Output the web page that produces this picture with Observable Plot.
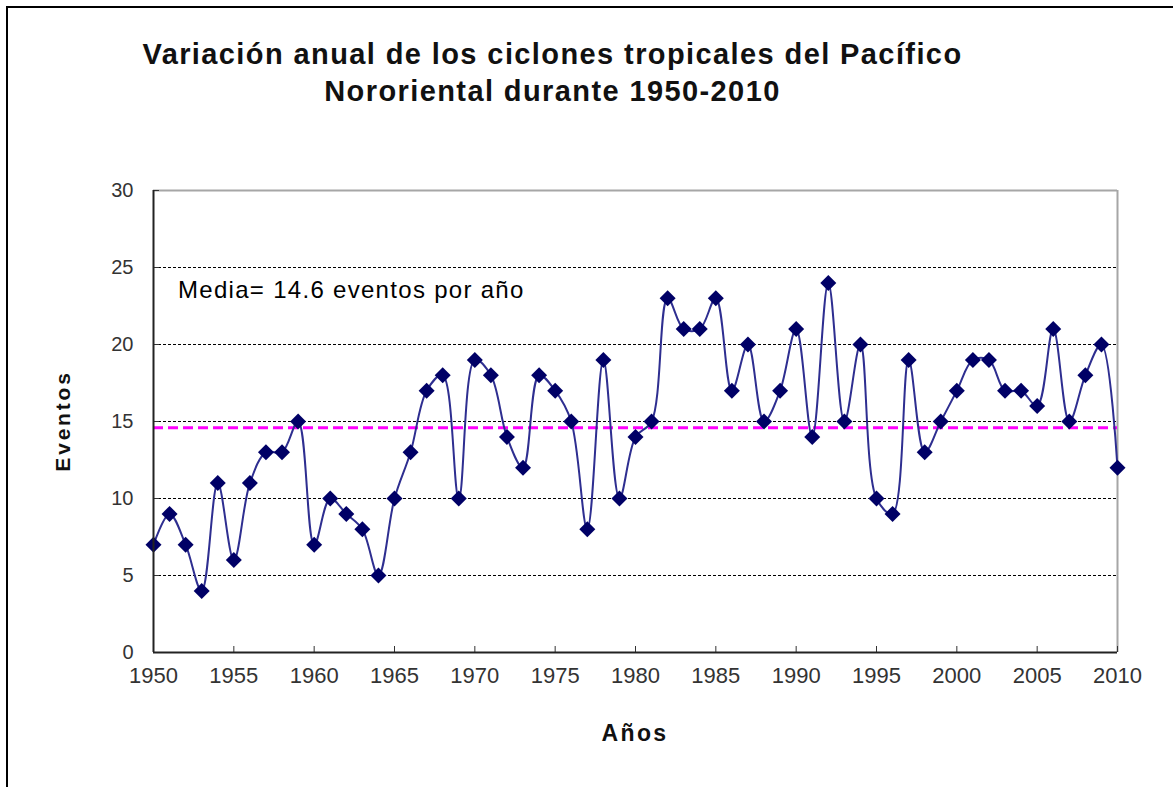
<!DOCTYPE html>
<html><head><meta charset="utf-8">
<script src="https://cdn.jsdelivr.net/npm/d3@7"></script>
<script src="https://cdn.jsdelivr.net/npm/@observablehq/plot@0.6"></script>
<style>
body{margin:0;background:#fff;font-family:"Liberation Sans",Arial,sans-serif;}
#wrap{position:relative;width:1173px;height:787px;overflow:hidden;background:#fff;}
#border{position:absolute;left:6px;top:6px;width:1300px;height:900px;border-left:2px solid #000;border-top:2px solid #000;}
#chart{position:absolute;left:0;top:0;}
.title{position:absolute;left:0;width:1105px;text-align:center;font-weight:bold;font-size:29px;line-height:29px;letter-spacing:1.4px;color:#111;white-space:nowrap;}
#media{position:absolute;left:178px;font-size:24px;line-height:24px;letter-spacing:1.3px;color:#000;white-space:nowrap;}
#xlab{position:absolute;left:535px;width:200px;text-align:center;font-weight:bold;font-size:23px;line-height:23px;letter-spacing:2.4px;color:#111;}
#ylab{position:absolute;left:62px;top:421px;transform:translate(-50%,-50%) rotate(-90deg);font-weight:bold;font-size:21px;line-height:21px;letter-spacing:2.8px;color:#111;white-space:nowrap;}
</style>
</head><body>
<div id="wrap">
  <div id="border"></div>
  <div id="chart"></div>
  <div class="title" style="top:40px">Variación anual de los ciclones tropicales del Pacífico</div>
  <div class="title" style="top:77px">Nororiental durante 1950-2010</div>
  <div id="media" style="top:278px">Media= 14.6 eventos por año</div>
  <div id="xlab" style="top:722px">Años</div>
  <div id="ylab">Eventos</div>
</div>
<script>
const years = [1950,1951,1952,1953,1954,1955,1956,1957,1958,1959,
  1960,1961,1962,1963,1964,1965,1966,1967,1968,1969,
  1970,1971,1972,1973,1974,1975,1976,1977,1978,1979,
  1980,1981,1982,1983,1984,1985,1986,1987,1988,1989,
  1990,1991,1992,1993,1994,1995,1996,1997,1998,1999,
  2000,2001,2002,2003,2004,2005,2006,2007,2008,2009,2010];
const events = [7,9,7,4,11,6,11,13,13,15,
  7,10,9,8,5,10,13,17,18,10,
  19,18,14,12,18,17,15,8,19,10,
  14,15,23,21,21,23,17,20,15,17,
  21,14,24,15,20,10,9,19,13,15,
  17,19,19,17,17,16,21,15,18,20,12];
const meanValue = [14.6];
const xTicks = [1950,1955,1960,1965,1970,1975,1980,1985,1990,1995,2000,2005,2010];
const yTicks = [0,5,10,15,20,25,30];
const gridValues = [5,10,15,20,25];

const data = years.map((y, i) => ({year: y, events: events[i]}));

const chart = Plot.plot({
  width: 1173, height: 787,
  marginLeft: 153, marginRight: 56, marginTop: 190, marginBottom: 135,
  style: {fontFamily: "Liberation Sans, Arial, sans-serif", background: "transparent", overflow: "visible"},
  x: {domain: [1950, 2010]},
  y: {domain: [0, 30]},
  marks: [
    Plot.ruleY(gridValues, {stroke: "#000", strokeDasharray: "3,2", strokeWidth: 1.2}),
    Plot.ruleY([yTicks[yTicks.length - 1]], {stroke: "#a6a6a6", strokeWidth: 2}),
    Plot.ruleX([xTicks[xTicks.length - 1]], {stroke: "#a6a6a6", strokeWidth: 2}),
    Plot.ruleY(meanValue, {stroke: "#ff00ff", strokeWidth: 3, strokeDasharray: "10,5"}),
    Plot.line(data, {x: "year", y: "events", curve: "catmull-rom", stroke: "#2e2e90", strokeWidth: 2}),
    Plot.dot(data, {x: "year", y: "events", symbol: "diamond2", r: 7.2, fill: "#000066", stroke: "none"}),
    Plot.axisX(xTicks, {tickSize: -6, tickPadding: 21, tickFormat: d => String(d), fontSize: 22, color: "#333", label: null}),
    Plot.axisY(yTicks, {tickSize: -6, tickPadding: 26, fontSize: 20, color: "#333", label: null}),
    Plot.ruleX([xTicks[0]], {stroke: "#222", strokeWidth: 2}),
    Plot.ruleY([yTicks[0]], {stroke: "#222", strokeWidth: 2})
  ]
});
document.getElementById("chart").appendChild(chart);
</script>
</body></html>
